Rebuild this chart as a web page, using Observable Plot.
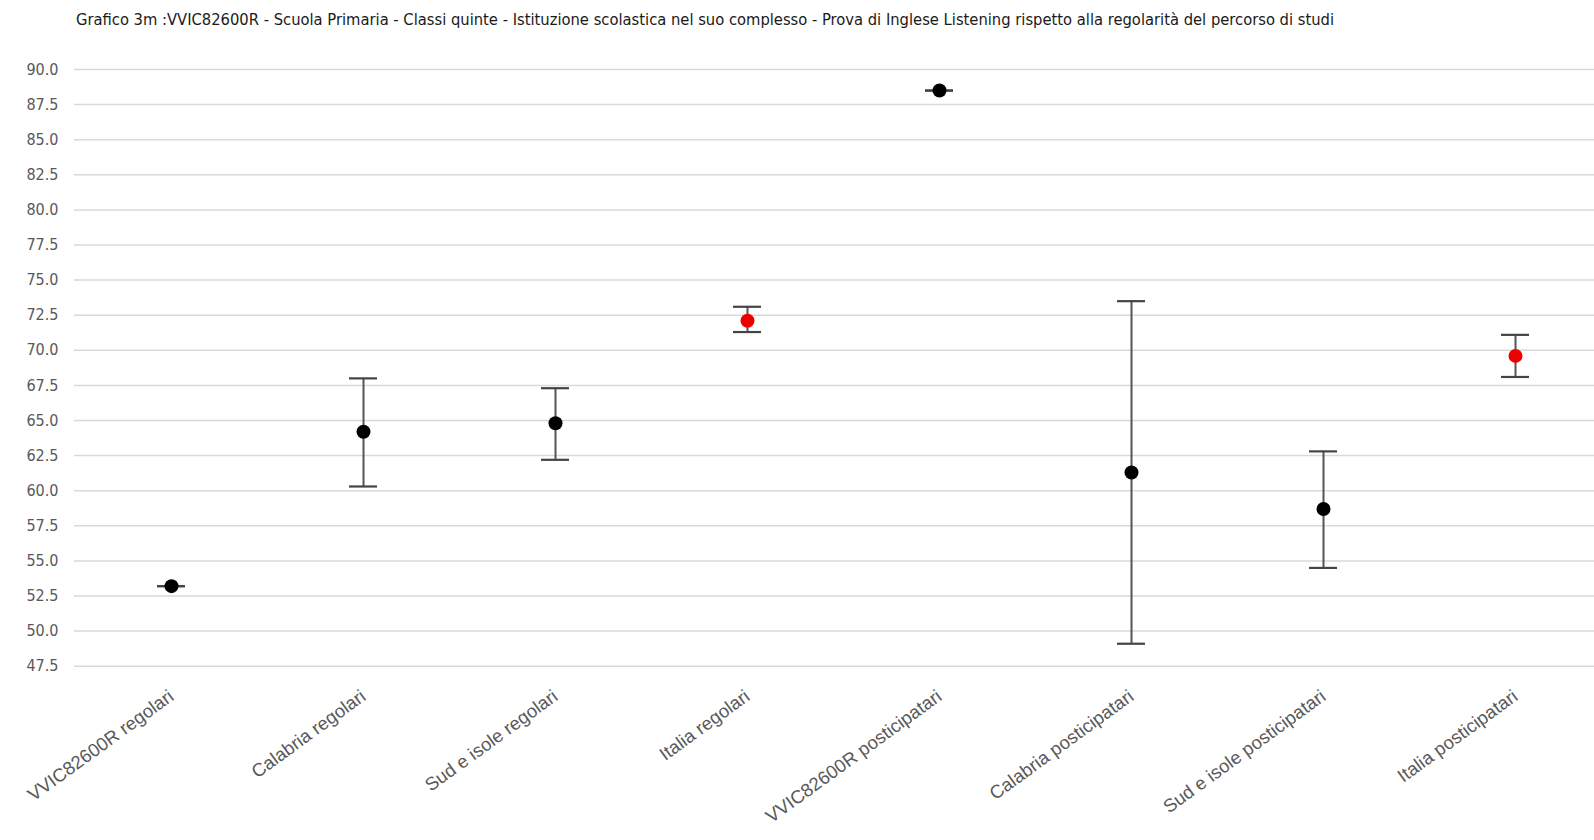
<!DOCTYPE html>
<html>
<head>
<meta charset="utf-8">
<script src="https://cdn.jsdelivr.net/npm/d3@7"></script>
<script src="https://cdn.jsdelivr.net/npm/@observablehq/plot@0.6"></script>
<style>
  html, body { margin: 0; padding: 0; background: #fff; }
  #title {
    height: 40px; box-sizing: border-box; padding-left: 76px; padding-top: 10px;
    font-family: "Liberation Sans Narrow", "DejaVu Sans Condensed", "Arial Narrow", sans-serif;
    font-size: 16.4px; color: #1a1a1a; white-space: nowrap; line-height: 20px;
  }
  #chart svg { display: block; }
</style>
</head>
<body>
<div id="title">Grafico 3m :VVIC82600R - Scuola Primaria - Classi quinte - Istituzione scolastica nel suo complesso - Prova di Inglese Listening rispetto alla regolarità del percorso di studi</div>
<div id="chart"></div>
<script>
const categories = ["VVIC82600R regolari", "Calabria regolari", "Sud e isole regolari", "Italia regolari",
  "VVIC82600R posticipatari", "Calabria posticipatari", "Sud e isole posticipatari", "Italia posticipatari"];
const values = [53.2, 64.2, 64.8, 72.1, 88.5, 61.3, 58.7, 69.6];
const lower  = [53.2, 60.3, 62.2, 71.3, 88.5, 49.1, 54.5, 68.1];
const upper  = [53.2, 68.0, 67.3, 73.1, 88.5, 73.5, 62.8, 71.1];
const isItalia = [false, false, false, true, false, false, false, true];
const yTicks = [47.5, 50, 52.5, 55, 57.5, 60, 62.5, 65, 67.5, 70, 72.5, 75, 77.5, 80, 82.5, 85, 87.5, 90];

const data = categories.map((c, i) => ({cat: c, v: values[i], lo: lower[i], hi: upper[i], it: isItalia[i]}));

const narrow = '"Liberation Sans Narrow", "DejaVu Sans Condensed", "Arial Narrow", sans-serif';

const chart = Plot.plot({
  width: 1594,
  height: 800,
  marginTop: 29,
  marginBottom: 174.3,
  marginLeft: 74,
  marginRight: 0,
  style: {background: "#fff", fontFamily: '"Liberation Sans", Arial, sans-serif'},
  x: {type: "band", domain: categories, range: [75, 1611], paddingInner: 0.854, paddingOuter: 0.427},
  y: {domain: [47.5, 90]},
  marks: [
    Plot.ruleY(yTicks, {stroke: "#d9d9d9", strokeWidth: 1.5}),
    Plot.axisY({ticks: yTicks, tickFormat: d => d.toFixed(1), tickSize: 0, tickPadding: 16,
      fontSize: 16, fill: "#595959", fontFamily: narrow, label: null}),
    Plot.axisX({tickSize: 0, tickPadding: 28, tickRotate: -36, fontSize: 18.5, fill: "#595959", label: null}),
    Plot.ruleX(data, {x: "cat", y1: "lo", y2: "hi", stroke: "#555", strokeWidth: 2}),
    Plot.tickY(data, {x: "cat", y: "hi", stroke: "#444", strokeWidth: 2.2}),
    Plot.tickY(data, {x: "cat", y: "lo", stroke: "#444", strokeWidth: 2.2}),
    Plot.dot(data, {x: "cat", y: "v", r: 7, fill: d => d.it ? "#ee0000" : "#000", stroke: "none"})
  ]
});
document.getElementById("chart").appendChild(chart);
</script>
</body>
</html>
